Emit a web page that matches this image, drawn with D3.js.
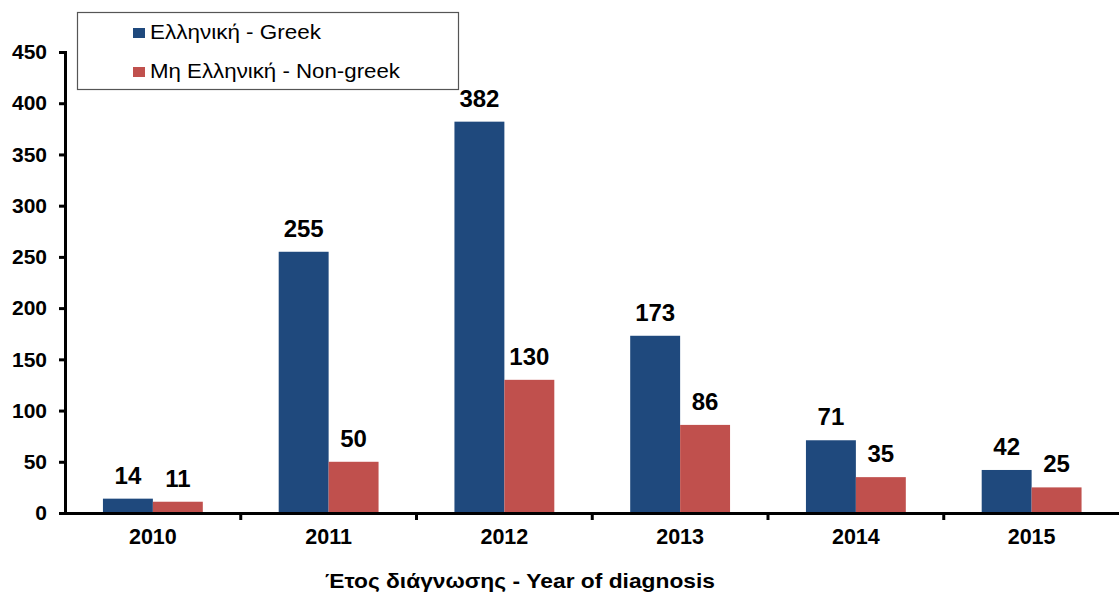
<!DOCTYPE html>
<html>
<head>
<meta charset="utf-8">
<script src="https://cdn.jsdelivr.net/npm/d3@7"></script>
<style>
	body { margin: 0; background: #fff; }
	text { font-family: "Liberation Sans", Arial, sans-serif; }
</style>
</head>
<body>
<div id="chart"></div>
<script>
// data
const years = ["2010", "2011", "2012", "2013", "2014", "2015"];
const seriesNames = ["Ελληνική - Greek", "Μη Ελληνική - Non-greek"];
const greek = [14, 255, 382, 173, 71, 42];
const nonGreek = [11, 50, 130, 86, 35, 25];
const yTicks = [0, 50, 100, 150, 200, 250, 300, 350, 400, 450];
const colors = ["#1f497d", "#c0504d"];

const W = 1119, H = 595;
const svg = d3.select("#chart").append("svg")
	.attr("width", W)
	.attr("height", H);

const x0 = 65, x1 = 1119.5, yBase = 513, yTop = 52;

const X = d3.scaleBand().domain(years).range([x0, x1]).padding(0);
const XS = d3.scaleBand().domain([0, 1]).range([0, X.bandwidth()])
	.paddingInner(0).paddingOuter(0.76);
const Y = d3.scaleLinear().domain([0, 450]).range([yBase, yTop]);

const rows = [];
years.forEach((yr, i) => {
	rows.push({ year: yr, s: 0, v: greek[i] });
	rows.push({ year: yr, s: 1, v: nonGreek[i] });
});

// bars
svg.append("g").selectAll("rect")
	.data(rows)
	.join("rect")
	.attr("x", (d) => X(d.year) + XS(d.s))
	.attr("width", XS.bandwidth())
	.attr("y", (d) => Y(d.v))
	.attr("height", (d) => Y(0) - Y(d.v))
	.attr("fill", (d) => colors[d.s]);

// value labels
svg.append("g").selectAll("text")
	.data(rows)
	.join("text")
	.attr("x", (d) => X(d.year) + XS(d.s) + XS.bandwidth() / 2)
	.attr("y", (d) => Y(d.v) - 15)
	.attr("text-anchor", "middle")
	.style("font-size", "24px")
	.style("font-weight", "bold")
	.text((d) => d.v);

// y axis
const yAxis = svg.append("g")
	.attr("transform", `translate(${x0},0)`)
	.call(d3.axisLeft(Y).tickValues(yTicks).tickSize(6).tickPadding(12));
yAxis.select(".domain").attr("stroke-width", 3);
yAxis.selectAll(".tick line").attr("stroke-width", 3);
yAxis.selectAll("text")
	.style("font-size", "21px")
	.style("font-weight", "bold")
	.attr("fill", "#000");

// x axis
const xAxis = svg.append("g")
	.attr("transform", `translate(0,${yBase})`)
	.call(d3.axisBottom(X).tickSize(0).tickPadding(16));
xAxis.select(".domain").attr("stroke-width", 3);
xAxis.selectAll("text")
	.style("font-size", "21.5px")
	.style("font-weight", "bold")
	.attr("fill", "#000");
// tick marks between categories
xAxis.selectAll(".sep")
	.data(years.slice(1))
	.join("line")
	.attr("x1", (d) => X(d))
	.attr("x2", (d) => X(d))
	.attr("y1", 0)
	.attr("y2", 7)
	.attr("stroke", "#000")
	.attr("stroke-width", 3);

// axis title
svg.append("text")
	.attr("x", 520)
	.attr("y", 588)
	.attr("text-anchor", "middle")
	.attr("textLength", 390)
	.attr("lengthAdjust", "spacingAndGlyphs")
	.style("font-size", "21px")
	.style("font-weight", "bold")
	.text("Έτος διάγνωσης - Year of diagnosis");

// legend
const legendWidths = [171, 250];
const legend = svg.append("g");
legend.append("rect")
	.attr("x", 77.5).attr("y", 12.5)
	.attr("width", 381).attr("height", 77)
	.attr("fill", "#fff")
	.attr("stroke", "#555")
	.attr("stroke-width", 1.2);
seriesNames.forEach((name, i) => {
	legend.append("rect")
		.attr("x", 133).attr("y", 28 + i * 39)
		.attr("width", 12).attr("height", 10)
		.attr("fill", colors[i]);
	legend.append("text")
		.attr("x", 150).attr("y", 39 + i * 39)
		.attr("textLength", legendWidths[i])
		.attr("lengthAdjust", "spacingAndGlyphs")
		.style("font-size", "20px")
		.text(name);
});
</script>
</body>
</html>
